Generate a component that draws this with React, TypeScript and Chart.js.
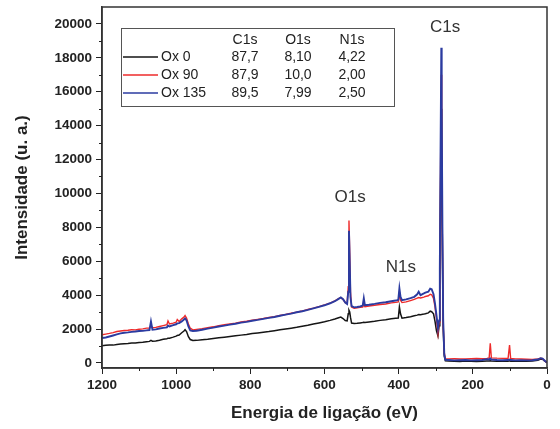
import React, { useEffect, useRef } from "react";
import { Chart, registerables } from "chart.js";

Chart.register(...registerables);

// Binding energy (eV), shared by all three spectra
const energies = [
  1200, 1190, 1180, 1170, 1160, 1150, 1140, 1130, 1120, 1110, 1100, 1090, 1080, 1072, 1068, 1064,
  1055, 1045, 1035, 1025, 1022, 1018, 1008, 1000, 997, 992, 985, 979, 976, 972, 967, 962, 955,
  945, 930, 915, 900, 885, 870, 855, 840, 825, 810, 795, 780, 765, 750, 735, 720, 705, 690, 675,
  660, 645, 630, 615, 600, 585, 572, 562, 556, 550, 544, 539, 536, 534, 532, 530, 527, 520, 512,
  504, 497, 494, 491, 480, 465, 450, 435, 420, 408, 401, 398, 395, 391, 380, 368, 358, 350, 346,
  341, 332, 328, 320, 315, 311, 306, 302, 298, 294, 291, 289, 287, 285, 284, 282, 280, 277, 274,
  265, 250, 235, 220, 205, 190, 175, 162, 156, 153, 150, 135, 120, 105, 101, 98, 85, 70, 55, 40,
  25, 17, 12, 6, 0,
];

const ox90 = [
  1660, 1700, 1740, 1790, 1850, 1880, 1910, 1930, 1960, 1950, 1990, 2010, 2050, 2060, 2200, 2080,
  2100, 2150, 2200, 2250, 2480, 2300, 2350, 2400, 2560, 2450, 2600, 2700, 2800, 2650, 2300, 2050, 1950,
  1980, 2020, 2080, 2130, 2200, 2250, 2300, 2350, 2420, 2460, 2520, 2570, 2620, 2680, 2730, 2800, 2860, 2930, 3000,
  3060, 3150, 3230, 3320, 3420, 3530, 3660, 3790, 3850, 3750, 3550, 3500, 4500, 8400, 6500, 4200, 3300, 3220, 3250,
  3280, 3300, 3450, 3320, 3360, 3400, 3450, 3480, 3540, 3570, 3600, 4150, 3700, 3560, 3600, 3680, 3750, 3820, 3860,
  3830, 3880, 3920, 3960, 4050, 4020, 3800, 3300, 2600, 1750, 2400, 5000, 11500, 17000, 13500, 7000, 2300, 600, 250,
  240, 250, 230, 240, 250, 260, 250, 270, 290, 1150, 300, 280, 270, 260, 1050, 260, 240, 230, 220, 210,
  230, 270, 250, 120, 20,
];

const ox135 = [
  1470, 1500, 1560, 1620, 1680, 1740, 1780, 1800, 1830, 1850, 1880, 1890, 1920, 1940, 2450, 1960,
  1980, 2030, 2070, 2100, 2200, 2150, 2230, 2280, 2330, 2350, 2450, 2560, 2620, 2500, 2150, 1920, 1880,
  1900, 1960, 2020, 2080, 2150, 2200, 2260, 2310, 2380, 2420, 2490, 2540, 2600, 2660, 2710, 2780, 2850, 2910, 2990,
  3050, 3130, 3220, 3310, 3400, 3520, 3640, 3780, 3860, 3760, 3560, 3480, 4200, 7800, 6000, 3900, 3350, 3280, 3300,
  3330, 3380, 3820, 3400, 3430, 3480, 3540, 3580, 3640, 3680, 3720, 4400, 3900, 3700, 3750, 3820, 3900, 4050, 4200,
  4000, 4100, 4150, 4200, 4380, 4350, 4050, 3500, 2800, 2050, 2500, 5500, 12500, 18600, 15000, 8000, 2600, 500, 180,
  170, 150, 160, 170, 150, 160, 170, 220, 200, 260, 200, 170, 160, 170, 200, 170, 150, 160, 150, 160,
  200, 280, 260, 130, 20,
];

const ox0 = [
  1020, 1040, 1060, 1050, 1090, 1110, 1130, 1140, 1170, 1180, 1210, 1220, 1250, 1270, 1330, 1280,
  1300, 1340, 1390, 1430, 1460, 1460, 1520, 1580, 1620, 1650, 1780, 1880, 1960, 1850, 1550, 1380, 1320,
  1330, 1370, 1400, 1440, 1480, 1520, 1560, 1600, 1640, 1680, 1730, 1770, 1810, 1850, 1900, 1950, 2000, 2050, 2100,
  2160, 2220, 2290, 2360, 2430, 2510, 2590, 2660, 2700, 2620, 2500, 2480, 2900, 3100, 3000, 2700, 2350, 2330, 2340,
  2360, 2380, 2400, 2390, 2420, 2460, 2510, 2550, 2600, 2630, 2650, 3300, 2900, 2640, 2680, 2730, 2780, 2820, 2850,
  2840, 2880, 2900, 2950, 3050, 3020, 2900, 2450, 1900, 1600, 2200, 4500, 10000, 15000, 12500, 6500, 2100, 400, 120,
  110, 100, 90, 110, 100, 90, 100, 120, 110, 130, 110, 100, 110, 100, 120, 100, 100, 110, 100, 110,
  150, 230, 220, 110, 20,
];

const seriesNames = ["Ox 0", "Ox 90", "Ox 135"];
const seriesColors = ["#151515", "#ee2b2b", "#2b3ba0"];
const seriesWidths = [1.5, 1.4, 1.9];

const tableHeaders = ["C1s", "O1s", "N1s"];
const c1sPct = ["87,7", "87,9", "89,5"];
const o1sPct = ["8,10", "10,0", "7,99"];
const n1sPct = ["4,22", "2,00", "2,50"];

const peakLabels = ["C1s", "O1s", "N1s"];
const peakLabelEnergies = [275, 531, 394];
const peakLabelIntensities = [19800, 9750, 5620];

const xMajorTicks = [0, 200, 400, 600, 800, 1000, 1200];
const xMinorTicks = [100, 300, 500, 700, 900, 1100];
const yMajorTicks = [0, 2000, 4000, 6000, 8000, 10000, 12000, 14000, 16000, 18000, 20000];
const yMinorTicks = [1000, 3000, 5000, 7000, 9000, 11000, 13000, 15000, 17000, 19000];

const FONT = "'Liberation Sans', Arial, sans-serif";
const INK = "#222222";

const decorPlugin = {
  id: "decor",
  afterDatasetsDraw(chart: any) {
    const { ctx, chartArea: a, scales } = chart;
    const xs = scales.x;
    const ys = scales.y;
    ctx.save();

    // frame
    ctx.strokeStyle = "#333333";
    ctx.lineWidth = 1.5;
    ctx.strokeRect(a.left, a.top, a.right - a.left, a.bottom - a.top);

    // minor ticks
    ctx.lineWidth = 1;
    ctx.strokeStyle = INK;
    ctx.beginPath();
    yMinorTicks.forEach((v) => {
      const py = Math.round(ys.getPixelForValue(v)) + 0.5;
      ctx.moveTo(a.left - 3, py);
      ctx.lineTo(a.left, py);
    });
    xMinorTicks.forEach((v) => {
      const px = Math.round(xs.getPixelForValue(v)) + 0.5;
      ctx.moveTo(px, a.bottom);
      ctx.lineTo(px, a.bottom + 3);
    });
    ctx.stroke();

    // peak labels
    ctx.fillStyle = "#333333";
    ctx.font = `17px ${FONT}`;
    ctx.textAlign = "center";
    ctx.textBaseline = "middle";
    peakLabels.forEach((t, i) => {
      ctx.fillText(t, xs.getPixelForValue(peakLabelEnergies[i]), ys.getPixelForValue(peakLabelIntensities[i]));
    });

    // legend table
    const bx = a.left + 19;
    const by = a.top + 21;
    const bw = 273;
    const bh = 78;
    ctx.fillStyle = "#ffffff";
    ctx.fillRect(bx, by, bw, bh);
    ctx.strokeStyle = "#555555";
    ctx.lineWidth = 1;
    ctx.strokeRect(bx + 0.5, by + 0.5, bw, bh);

    ctx.font = `14px ${FONT}`;
    ctx.fillStyle = INK;
    const colX = [bx + 124, bx + 177, bx + 231];
    ctx.textAlign = "center";
    tableHeaders.forEach((h, j) => ctx.fillText(h, colX[j], by + 12));
    const rowY = [by + 29, by + 47, by + 65];
    seriesNames.forEach((name, i) => {
      ctx.strokeStyle = seriesColors[i];
      ctx.lineWidth = 1.5;
      ctx.beginPath();
      ctx.moveTo(bx + 2, rowY[i]);
      ctx.lineTo(bx + 37, rowY[i]);
      ctx.stroke();
      ctx.fillStyle = INK;
      ctx.textAlign = "left";
      ctx.fillText(name, bx + 40, rowY[i]);
      ctx.textAlign = "center";
      ctx.fillText(c1sPct[i], colX[0], rowY[i]);
      ctx.fillText(o1sPct[i], colX[1], rowY[i]);
      ctx.fillText(n1sPct[i], colX[2], rowY[i]);
    });
    ctx.restore();
  },
};

export default function App() {
  const ref = useRef<HTMLCanvasElement | null>(null);

  useEffect(() => {
    if (!ref.current) return;
    const mk = (vals: number[]) => energies.map((e, i) => ({ x: e, y: vals[i] }));
    const all = [ox0, ox90, ox135];
    const chart = new Chart(ref.current, {
      type: "line",
      data: {
        datasets: all.map((vals, i) => ({
          label: seriesNames[i],
          data: mk(vals),
          borderColor: seriesColors[i],
          borderWidth: seriesWidths[i],
          pointRadius: 0,
          tension: 0,
          fill: false,
          order: 3 - i,
        })),
      },
      options: {
        responsive: false,
        animation: false,
        events: [],
        layout: { padding: { top: 7, right: 13, left: 0, bottom: 0 } },
        plugins: { legend: { display: false }, tooltip: { enabled: false } },
        scales: {
          x: {
            type: "linear",
            reverse: true,
            min: 0,
            max: 1200,
            afterBuildTicks: (s: any) => {
              s.ticks = xMajorTicks.map((v) => ({ value: v }));
            },
            afterFit: (s: any) => {
              s.height = 61;
              s.paddingLeft = 0;
              s.paddingRight = 0;
            },
            grid: { drawOnChartArea: false, drawTicks: true, tickLength: 6, color: INK, tickColor: INK },
            border: { display: true, color: "#333333", width: 1.5 },
            ticks: {
              color: INK,
              padding: 3,
              maxRotation: 0,
              font: { family: FONT, size: 13.5, weight: "bold" },
              callback: (v: any) => String(v),
            },
            title: {
              display: true,
              text: "Energia de ligação (eV)",
              color: INK,
              font: { family: FONT, size: 17, weight: "bold" },
              padding: { top: 0, bottom: 5 },
            },
          },
          y: {
            type: "linear",
            min: -300,
            max: 21000,
            afterBuildTicks: (s: any) => {
              s.ticks = yMajorTicks.map((v) => ({ value: v }));
            },
            afterFit: (s: any) => {
              s.width = 102;
              s.paddingTop = 0;
              s.paddingBottom = 0;
            },
            grid: { drawOnChartArea: false, drawTicks: true, tickLength: 6, color: INK, tickColor: INK },
            border: { display: true, color: "#333333", width: 1.5 },
            ticks: {
              color: INK,
              padding: 4,
              font: { family: FONT, size: 13.5, weight: "bold" },
              callback: (v: any) => String(v),
            },
            title: {
              display: true,
              text: "Intensidade (u. a.)",
              color: INK,
              font: { family: FONT, size: 17, weight: "bold" },
              padding: { top: 12, bottom: 0 },
            },
          },
        },
      },
      plugins: [decorPlugin],
    } as any);
    return () => chart.destroy();
  }, []);

  return (
    <div style={{ position: "fixed", left: 0, top: 0, width: 560, height: 429, background: "#ffffff" }}>
      <canvas ref={ref} width={560} height={429} style={{ width: 560, height: 429, display: "block" }} />
    </div>
  );
}
